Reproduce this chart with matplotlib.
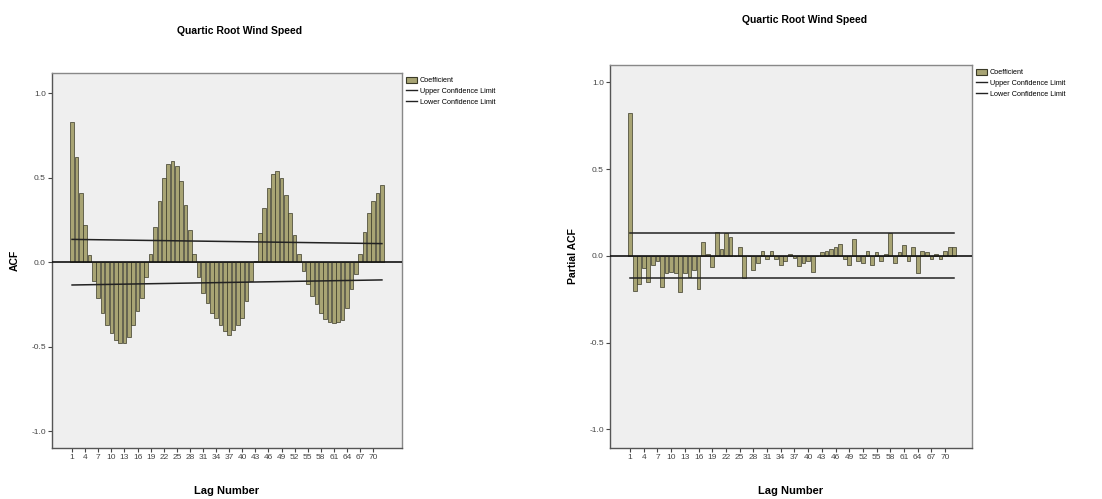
import matplotlib
matplotlib.use("Agg")
import matplotlib.pyplot as plt
from matplotlib.patches import Patch
from matplotlib.lines import Line2D
import numpy as np

plt.rcParams['font.family'] = ['Liberation Sans', 'DejaVu Sans']

lags = list(range(1, 73))
tick_lags = list(range(1, 71, 3))

acf = [0.83, 0.62, 0.41, 0.22, 0.04, -0.11, -0.21, -0.30, -0.37, -0.42,
       -0.46, -0.48, -0.48, -0.44, -0.37, -0.29, -0.21, -0.09, 0.05, 0.21,
       0.36, 0.50, 0.58, 0.60, 0.57, 0.48, 0.34, 0.19, 0.05, -0.09,
       -0.18, -0.24, -0.30, -0.33, -0.37, -0.41, -0.43, -0.40, -0.37, -0.33,
       -0.23, -0.11, 0.01, 0.17, 0.32, 0.44, 0.52, 0.54, 0.50, 0.40,
       0.29, 0.16, 0.05, -0.05, -0.13, -0.20, -0.25, -0.30, -0.335, -0.355,
       -0.36, -0.355, -0.345, -0.27, -0.16, -0.07, 0.05, 0.18, 0.29, 0.365,
       0.41, 0.455]

pacf = [0.825, -0.20, -0.16, -0.07, -0.15, -0.05, -0.03, -0.18, -0.10, -0.09,
        -0.10, -0.21, -0.10, -0.12, -0.08, -0.19, 0.08, 0.01, -0.065, 0.14,
        0.04, 0.13, 0.11, 0.00, 0.05, -0.13, 0.00, -0.08, -0.04, 0.03,
        -0.02, 0.03, -0.02, -0.05, -0.03, 0.01, -0.01, -0.06, -0.04, -0.03,
        -0.09, 0.00, 0.02, 0.03, 0.04, 0.05, 0.07, -0.02, -0.05, 0.10,
        -0.03, -0.04, 0.03, -0.05, 0.02, -0.03, 0.01, 0.13, -0.04, 0.02,
        0.06, -0.03, 0.05, -0.10, 0.03, 0.02, -0.02, 0.01, -0.02, 0.03,
        0.05, 0.05]

acf_conf_lags = [1, 72]
acf_upper = [0.135, 0.11]
acf_lower = [-0.135, -0.105]

pacf_conf_lags = [1, 72]
pacf_upper = [0.13, 0.13]
pacf_lower = [-0.13, -0.13]

title = "Quartic Root Wind Speed"

bar_color = '#a8a474'
edge_color = '#3a3a28'
bg = '#efefef'
W, H = 1102, 499

fig = plt.figure(figsize=(W / 100, H / 100), dpi=100)
fig.patch.set_facecolor('white')


def make_ax(px_left, px_right, px_top, px_bottom):
    return fig.add_axes([px_left / W, 1 - px_bottom / H,
                         (px_right - px_left) / W, (px_bottom - px_top) / H])


def style(ax, vals, lo_lags, up, lo, ylabel):
    ax.set_facecolor(bg)
    ax.bar(lags, vals, width=0.82, color=bar_color, edgecolor=edge_color,
           linewidth=0.5, zorder=2)
    ax.plot(lo_lags, up, color='#222222', lw=1.1, zorder=3)
    ax.plot(lo_lags, lo, color='#222222', lw=1.1, zorder=3)
    ax.axhline(0, color='#111111', lw=1.2, zorder=4)
    ax.set_xlim(-3.6, 76.6)
    ax.set_ylim(-1.1, 1.12)
    ax.set_yticks([-1.0, -0.5, 0.0, 0.5, 1.0])
    ax.set_yticklabels(['-1.0', '-0.5', '0.0', '0.5', '1.0'])
    ax.set_xticks(tick_lags)
    ax.set_xticklabels([str(t) for t in tick_lags])
    ax.tick_params(axis='both', direction='out', length=3, width=0.8,
                   labelsize=6, labelcolor='#444444', color='#444444', pad=1.5)
    for s in ax.spines.values():
        s.set_color('#888888')
        s.set_linewidth(1.0)
    ax.spines['left'].set_color('#555555')
    ax.spines['bottom'].set_color('#555555')
    ax.set_xlabel('Lag Number', fontsize=8, fontweight='bold', labelpad=18)
    ax.set_ylabel(ylabel, fontsize=7.5, fontweight='bold', labelpad=8)
    handles = [Patch(facecolor=bar_color, edgecolor=edge_color, linewidth=0.8),
               Line2D([0], [0], color='#222222', lw=1.0),
               Line2D([0], [0], color='#222222', lw=1.0)]
    ax.legend(handles, ['Coefficient', 'Upper Confidence Limit', 'Lower Confidence Limit'],
              loc='upper left', bbox_to_anchor=(1.0, 1.0), frameon=False,
              fontsize=5.2, handlelength=1.6, handleheight=0.9, handletextpad=0.4,
              labelspacing=0.45, borderaxespad=0.3, borderpad=0.2)


ax1 = make_ax(52, 402, 73, 448)
style(ax1, acf, acf_conf_lags, acf_upper, acf_lower, 'ACF')
ax2 = make_ax(610, 972, 65, 448)
style(ax2, pacf, pacf_conf_lags, pacf_upper, pacf_lower, 'Partial ACF')
ax2.set_xlim(-3.4, 75.9)
ax2.set_ylim(-1.107, 1.1)

fig.text(240 / W, 1 - 31 / H, title, ha='center', va='center', fontsize=7.5, fontweight='bold')
fig.text(805 / W, 1 - 20 / H, title, ha='center', va='center', fontsize=7.5, fontweight='bold')

fig.savefig('out.png', dpi=100, facecolor='white')
